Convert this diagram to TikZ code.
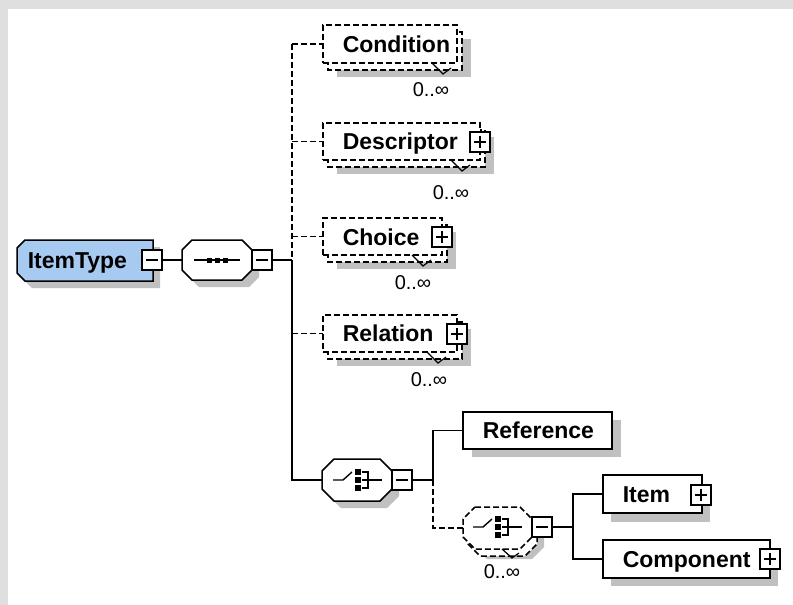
\documentclass[tikz,border=0pt]{standalone}
\usepackage{fontspec}
\setmainfont{Liberation Sans}
\definecolor{framegray}{RGB}{223,223,223}
\definecolor{shadowgray}{RGB}{192,192,192}
\definecolor{typeblue}{RGB}{166,202,240}
\newcommand{\octodraw}[6]{\path[#1] ({#2+#6},#3) -- ({#4-#6},#3) -- (#4,{#3+#6}) -- (#4,{#5-#6}) -- ({#4-#6},#5) -- ({#2+#6},#5) -- (#2,{#5-#6}) -- (#2,{#3+#6}) -- cycle;}
\newcommand{\choiceicon}[2]{%
  \draw[line width=1.4pt] ({#1-24},#2) -- ({#1-14},#2) -- ({#1-5},{#2-8});
  \fill ({#1-2},{#2-11}) rectangle ({#1+4},{#2-5});
  \fill ({#1-2},{#2-3}) rectangle ({#1+4},{#2+3});
  \fill ({#1-2},{#2+5}) rectangle ({#1+4},{#2+11});
  \draw[line width=1.4pt] ({#1+5},{#2-8}) -- ({#1+11},{#2-8}) -- ({#1+11},{#2+8}) -- ({#1+5},{#2+8});
  \draw[line width=1.4pt] ({#1+5},#2) -- ({#1+25},#2);}
\begin{document}
\begin{tikzpicture}[x=1pt,y=-1pt,line width=1.5pt,
  lab/.style={font=\fontsize{23}{27}\selectfont\bfseries, inner sep=0, anchor=base west},
  occ/.style={font=\fontsize{20}{24}\selectfont, inner sep=0},
  dsh/.style={dash pattern=on 6pt off 3pt},
  elbox/.style={draw, fill=white, inner sep=0, outer sep=0, anchor=north west},
  pm/.style={draw, fill=white, minimum size=20pt, inner sep=0, outer sep=0,
    path picture={\draw[line width=1.4pt] ([xshift=4pt]path picture bounding box.west) -- ([xshift=-4pt]path picture bounding box.east);}},
  plusbox/.style={draw, fill=white, minimum size=20pt, inner sep=0, outer sep=0,
    path picture={\draw[line width=1.4pt] ([xshift=4pt]path picture bounding box.west) -- ([xshift=-4pt]path picture bounding box.east);
      \draw[line width=1.4pt] ([yshift=-4pt]path picture bounding box.north) -- ([yshift=4pt]path picture bounding box.south);}},
  hub/.style={inner sep=0, outer sep=0},
  chev/.style={line width=1.2pt}
]
\useasboundingbox (0,0) rectangle (793,605);
\fill[framegray] (0,0) rectangle (793,605);
\fill[white] (8,9) rectangle (793,605);

% ItemType
\fill[shadowgray] (32,247) -- (160,247) -- (160,288) -- (32,288) -- (24,280) -- (24,255) -- cycle;
\draw[fill=typeblue] (25,240) -- (153,240) -- (153,281) -- (25,281) -- (17,273) -- (17,248) -- cycle;
\node[hub, minimum width=136pt, minimum height=41pt] (itembox) at (85,260.5) {};
\node[lab] (itemtype) at (27,268) {ItemType};
\node[pm] (m1) at (152,260) {};

% sequence
\octodraw{fill=shadowgray}{189}{247}{259}{287}{10}
\octodraw{draw,fill=white}{182}{240}{252}{280}{10}
\node[hub, minimum width=70pt, minimum height=40pt] (seq) at (217,260) {};
\draw[line width=1.4pt] (194,260) -- (240,260);
\fill (206.5,257.5) rectangle (211.5,262.5);
\fill (214.5,257.5) rectangle (219.5,262.5);
\fill (222.5,257.5) rectangle (227.5,262.5);
\node[pm] (m2) at (262,260) {};
\draw (m1.east) -- (seq.west);

% Condition
\fill[shadowgray] (337,39) rectangle (471,77);
\draw[dsh,fill=white] (328,32) rectangle (462,70);
\node[elbox,dsh,minimum width=134pt,minimum height=38pt] (cond) at (323,25) {};
\draw[chev] (432,63) -- (443,74) -- (451,68);
\node[lab] (condT) at (342,52) {Condition};
\node[occ] (condO) at (431,90) {0..∞};

% Descriptor
\fill[shadowgray] (337,137) rectangle (494,174);
\draw[dsh,fill=white] (328,130) rectangle (485,167);
\node[elbox,dsh,minimum width=157pt,minimum height=37pt] (desc) at (323,123) {};
\draw[chev] (451,160) -- (462,171) -- (470,165);
\node[lab] (descT) at (342,149.5) {Descriptor};
\node[plusbox] (p1) at (480,142) {};
\node[occ] (descO) at (451,193) {0..∞};

% Choice
\fill[shadowgray] (337,232) rectangle (456,269);
\draw[dsh,fill=white] (328,225) rectangle (447,262);
\node[elbox,dsh,minimum width=119pt,minimum height=37pt] (choi) at (323,218) {};
\draw[chev] (412,255) -- (423,266) -- (431,260);
\node[lab] (choiT) at (342,245) {Choice};
\node[plusbox] (p2) at (442,237) {};
\node[occ] (choiO) at (413,283) {0..∞};

% Relation
\fill[shadowgray] (337,329) rectangle (471,366);
\draw[dsh,fill=white] (328,322) rectangle (462,359);
\node[elbox,dsh,minimum width=134pt,minimum height=37pt] (rel) at (323,315) {};
\draw[chev] (427,352) -- (438,363) -- (446,357);
\node[lab] (relT) at (342,341.5) {Relation};
\node[plusbox] (p3) at (457,334) {};
\node[occ] (relO) at (429,380) {0..∞};

% bus
\coordinate (bus0) at (292,260);
\coordinate (busC) at (292,44);
\coordinate (busD) at (292,141.5);
\coordinate (busH) at (292,236.5);
\coordinate (busR) at (292,333.5);
\coordinate (busX) at (292,480);
\draw (m2.east) -- (bus0);
\draw[dsh] (busC) -- (bus0);
\draw[dsh] (busC) -- (cond.west);
\draw[dsh] (busD) -- (desc.west);
\draw[dsh] (busH) -- (choi.west);
\draw[dsh] (busR) -- (rel.west);

% big choice
\octodraw{fill=shadowgray}{329}{466}{399}{508}{12}
\octodraw{draw,fill=white}{322}{459}{392}{501}{12}
\node[hub, minimum width=70pt, minimum height=42pt] (chc) at (357,480) {};
\choiceicon{357}{480}
\node[pm] (m3) at (402,480) {};
\draw (bus0) -- (busX) -- (chc.west);

% Reference
\fill[shadowgray] (472,420) rectangle (621,457);
\node[elbox,minimum width=149pt,minimum height=37pt] (ref) at (463,412) {};
\node[lab] (refT) at (482,438.5) {Reference};
\coordinate (j1) at (433,480);
\draw (m3.east) -- (j1);
\draw (j1) |- (ref.west);

% inner choice
\octodraw{fill=shadowgray}{475}{517}{544}{559}{12}
\octodraw{draw,dsh,fill=white}{468}{514}{537}{556}{12}
\octodraw{draw,dsh,fill=white}{463}{507}{532}{549}{12}
\node[hub, minimum width=69pt, minimum height=42pt] (ich) at (497.5,528) {};
\choiceicon{497}{527}
\draw[chev] (502,549) -- (512,558) -- (519,553);
\node[pm] (m4) at (542,527) {};
\node[occ] (ichO) at (502,572) {0..∞};
\draw[dsh] (j1) |- (ich.west);

% Item / Component
\coordinate (j2) at (573,527);
\draw (m4.east) -- (j2);
\fill[shadowgray] (611,484) rectangle (710,522);
\node[elbox,minimum width=99pt,minimum height=38pt] (item) at (603,475) {};
\node[lab] (itemT) at (622,502) {Item};
\node[plusbox] (p4) at (701,495) {};
\fill[shadowgray] (611,548) rectangle (778,586);
\node[elbox,minimum width=167pt,minimum height=38pt] (comp) at (603,540) {};
\node[lab] (compT) at (622,567) {Component};
\node[plusbox] (p5) at (770,559) {};
\draw (j2) |- (item.west);
\draw (j2) |- (comp.west);
\end{tikzpicture}
\end{document}
